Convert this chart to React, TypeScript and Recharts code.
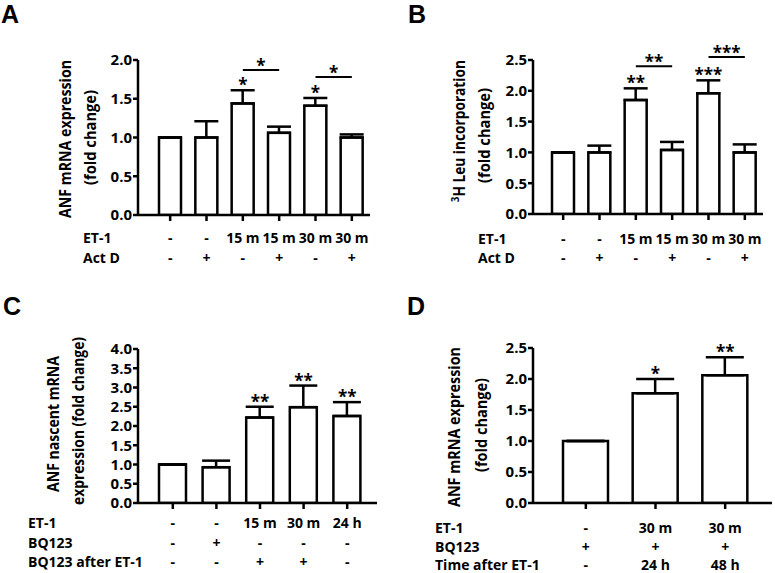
import React from "react"
import { BarChart, Bar, XAxis, YAxis, ErrorBar, ReferenceLine, ReferenceDot } from "recharts"

const FONT = "'Open Sans', Lato, sans-serif"

// Panel A - ANF mRNA, actinomycin D
const groupsA = ["g1", "g2", "g3", "g4", "g5", "g6"]
const meanA = [1.0, 1.0, 1.44, 1.06, 1.41, 1.0]
const semA = [0, 0.21, 0.17, 0.08, 0.1, 0.04]
const starsA = ["", "", "*", "", "*", ""]
const et1A = ["-", "-", "15 m", "15 m", "30 m", "30 m"]
const actDA = ["-", "+", "-", "+", "-", "+"]
const bracketsA = [
  { from: "g3", to: "g4", y: 1.87, label: "*" },
  { from: "g5", to: "g6", y: 1.78, label: "*" },
]

// Panel B - 3H Leu incorporation
const groupsB = ["g1", "g2", "g3", "g4", "g5", "g6"]
const meanB = [1.0, 1.0, 1.85, 1.04, 1.96, 1.0]
const semB = [0, 0.11, 0.19, 0.13, 0.21, 0.13]
const starsB = ["", "", "**", "", "***", ""]
const et1B = ["-", "-", "15 m", "15 m", "30 m", "30 m"]
const actDB = ["-", "+", "-", "+", "-", "+"]
const bracketsB = [
  { from: "g3", to: "g4", y: 2.4, label: "**" },
  { from: "g5", to: "g6", y: 2.55, label: "***" },
]

// Panel C - nascent ANF mRNA
const groupsC = ["g1", "g2", "g3", "g4", "g5"]
const meanC = [1.0, 0.93, 2.22, 2.49, 2.26]
const semC = [0, 0.17, 0.28, 0.56, 0.36]
const starsC = ["", "", "**", "**", "**"]
const et1C = ["-", "-", "15 m", "30 m", "24 h"]
const bqC = ["-", "+", "-", "-", "-"]
const bqAfterC = ["-", "-", "+", "+", "-"]

// Panel D - ANF mRNA after BQ123
const groupsD = ["g1", "g2", "g3"]
const meanD = [1.0, 1.77, 2.06]
const semD = [0, 0.23, 0.29]
const starsD = ["", "*", "**"]
const et1D = ["-", "30 m", "30 m"]
const bqD = ["+", "+", "+"]
const timeD = ["-", "24 h", "48 h"]

type Bracket = { from: string; to: string; y: number; label: string }
type Title = { content: React.ReactNode; x: number; y: number; len: number }

type PanelProps = {
  left: number
  top: number
  width: number
  height: number
  letter: string
  letterX: number
  letterY: number
  groups: string[]
  means: number[]
  sems: number[]
  stars: string[]
  rowNames: string[]
  rows: string[][]
  rowX: number
  rowDy: number[]
  brackets: Bracket[]
  yMax: number
  yTicks: number[]
  plotLeft: number
  plotRight: number
  plotTop: number
  plotBottom: number
  padLeft: number
  padRight: number
  barSize: number
  capWidth: number
  titles: Title[]
}

const txt = { fontFamily: FONT, fontWeight: 700, fontSize: 14, fill: "#000" }
const tickTxt = { ...txt, fontSize: 15 }
const starTxt = { fontFamily: FONT, fontWeight: 700, fontSize: 17, fill: "#000" }

function Panel(p: PanelProps) {
  const data = p.groups.map((g, i) => ({ group: g, mean: p.means[i], err: [0, p.sems[i]], star: p.stars[i] }))

  const tick = (t: any) => (
    <g>
      {p.rows.map((r, i) => (
        <text key={i} x={t.x} y={p.plotBottom + p.rowDy[i]} textAnchor="middle" style={txt}>
          {r[t.index]}
        </text>
      ))}
      {t.index === 0 &&
        p.rowNames.map((n, i) => (
          <text key={"n" + i} x={p.rowX} y={p.plotBottom + p.rowDy[i]} style={txt}>
            {n}
          </text>
        ))}
    </g>
  )

  const yTitle = () => (
    <g>
      {p.titles.map((t, i) => (
        <text
          key={i}
          x={t.x}
          y={t.y}
          transform={`rotate(-90, ${t.x}, ${t.y})`}
          textAnchor="middle"
          textLength={t.len}
          lengthAdjust="spacingAndGlyphs"
          style={{ ...txt, fontSize: 16 }}
        >
          {t.content}
        </text>
      ))}
      <text x={p.letterX} y={p.letterY} style={{ fontFamily: "'Liberation Sans', Arial, sans-serif", fontWeight: 700, fontSize: 25, fill: "#000" }}>
        {p.letter}
      </text>
    </g>
  )

  return (
    <div style={{ position: "absolute", left: p.left, top: p.top }}>
      <BarChart
        width={p.width}
        height={p.height}
        data={data}
        margin={{ top: p.plotTop, right: p.width - p.plotRight, bottom: 0, left: 0 }}
        barSize={p.barSize}
        style={{ overflow: "visible" }}
      >
        <XAxis
          dataKey="group"
          type="category"
          interval={0}
          height={p.height - p.plotBottom}
          padding={{ left: p.padLeft, right: p.padRight }}
          axisLine={{ stroke: "#000", strokeWidth: 2.5 }}
          tickLine={{ stroke: "#000", strokeWidth: 2.5 }}
          tickSize={6}
          tick={tick}
        />
        <YAxis
          type="number"
          width={p.plotLeft}
          domain={[0, p.yMax]}
          ticks={p.yTicks}
          interval={0}
          allowDataOverflow
          tickFormatter={(v: number) => v.toFixed(1)}
          axisLine={{ stroke: "#000", strokeWidth: 2.5 }}
          tickLine={{ stroke: "#000", strokeWidth: 2.5 }}
          tickSize={5}
          tickMargin={1}
          tick={tickTxt}
          label={{ content: yTitle }}
        />
        <Bar dataKey="mean" fill="#fff" stroke="#000" strokeWidth={2.5} isAnimationActive={false}>
          <ErrorBar dataKey="err" direction="y" width={p.capWidth} stroke="#000" strokeWidth={2.5} isAnimationActive={false} />
        </Bar>
        {data
          .filter((d) => d.star)
          .map((d) => (
            <ReferenceDot
              key={"s" + d.group}
              x={d.group}
              y={d.mean + d.err[1]}
              r={0}
              ifOverflow="visible"
              label={(lp: any) => (
                <text x={lp.viewBox.x + (lp.viewBox.width || 0) / 2} y={lp.viewBox.y + 1} textAnchor="middle" style={starTxt}>
                  {d.star}
                </text>
              )}
            />
          ))}
        {p.brackets.map((b, i) => (
          <ReferenceLine
            key={"b" + i}
            segment={[
              { x: b.from, y: b.y },
              { x: b.to, y: b.y },
            ]}
            stroke="#000"
            strokeWidth={2}
            ifOverflow="visible"
            label={(lp: any) => (
              <text x={lp.viewBox.x + lp.viewBox.width / 2} y={lp.viewBox.y + 2} textAnchor="middle" style={starTxt}>
                {b.label}
              </text>
            )}
          />
        ))}
      </BarChart>
    </div>
  )
}

export default function App() {
  return (
    <div style={{ position: "absolute", left: 0, top: 0, width: 775, height: 573, background: "#fff", overflow: "hidden" }}>
      <Panel
        left={0}
        top={0}
        width={390}
        height={290}
        letter="A"
        letterX={1}
        letterY={23}
        groups={groupsA}
        means={meanA}
        sems={semA}
        stars={starsA}
        rowNames={["ET-1", "Act D"]}
        rows={[et1A, actDA]}
        rowX={83}
        rowDy={[28.3, 48.3]}
        brackets={bracketsA}
        yMax={2}
        yTicks={[0, 0.5, 1, 1.5, 2]}
        plotLeft={138}
        plotRight={370}
        plotTop={60}
        plotBottom={215}
        padLeft={14}
        padRight={0}
        barSize={22}
        capWidth={12}
        titles={[
          { content: "ANF mRNA expression", x: 71, y: 139, len: 158 },
          { content: "(fold change)", x: 96, y: 137.5, len: 95 },
        ]}
      />
      <Panel
        left={390}
        top={0}
        width={385}
        height={290}
        letter="B"
        letterX={18}
        letterY={23}
        groups={groupsB}
        means={meanB}
        sems={semB}
        stars={starsB}
        rowNames={["ET-1", "Act D"]}
        rows={[et1B, actDB]}
        rowX={88}
        rowDy={[29.7, 49]}
        brackets={bracketsB}
        yMax={2.5}
        yTicks={[0, 0.5, 1, 1.5, 2, 2.5]}
        plotLeft={143}
        plotRight={373}
        plotTop={60}
        plotBottom={214}
        padLeft={12}
        padRight={0}
        barSize={22}
        capWidth={12}
        titles={[
          {
            content: (
              <>
                <tspan fontSize={11} dy={-6}>
                  3
                </tspan>
                <tspan dy={6}>H Leu incorporation</tspan>
              </>
            ),
            x: 75,
            y: 131,
            len: 142,
          },
          { content: "(fold change)", x: 100, y: 135.5, len: 95 },
        ]}
      />
      <Panel
        left={0}
        top={290}
        width={390}
        height={283}
        letter="C"
        letterX={3}
        letterY={25}
        groups={groupsC}
        means={meanC}
        sems={semC}
        stars={starsC}
        rowNames={["ET-1", "BQ123", "BQ123 after ET-1"]}
        rows={[et1C, bqC, bqAfterC]}
        rowX={28}
        rowDy={[25, 44.5, 63.5]}
        brackets={[]}
        yMax={4}
        yTicks={[0, 0.5, 1, 1.5, 2, 2.5, 3, 3.5, 4]}
        plotLeft={138}
        plotRight={377}
        plotTop={59}
        plotBottom={213}
        padLeft={13}
        padRight={8}
        barSize={27}
        capWidth={14}
        titles={[
          { content: "ANF nascent mRNA", x: 59, y: 134, len: 136 },
          { content: "expression (fold change)", x: 84, y: 131, len: 168 },
        ]}
      />
      <Panel
        left={390}
        top={290}
        width={385}
        height={283}
        letter="D"
        letterX={17}
        letterY={25}
        groups={groupsD}
        means={meanD}
        sems={semD}
        stars={starsD}
        rowNames={["ET-1", "BQ123", "Time after ET-1"]}
        rows={[et1D, bqD, timeD]}
        rowX={45}
        rowDy={[29.5, 48.5, 67]}
        brackets={[]}
        yMax={2.5}
        yTicks={[0, 0.5, 1, 1.5, 2, 2.5]}
        plotLeft={143}
        plotRight={382}
        plotTop={58}
        plotBottom={213}
        padLeft={18}
        padRight={12}
        barSize={45}
        capWidth={19}
        titles={[
          { content: "ANF mRNA expression", x: 70, y: 137, len: 160 },
          { content: "(fold change)", x: 97, y: 135, len: 94 },
        ]}
      />
    </div>
  )
}
